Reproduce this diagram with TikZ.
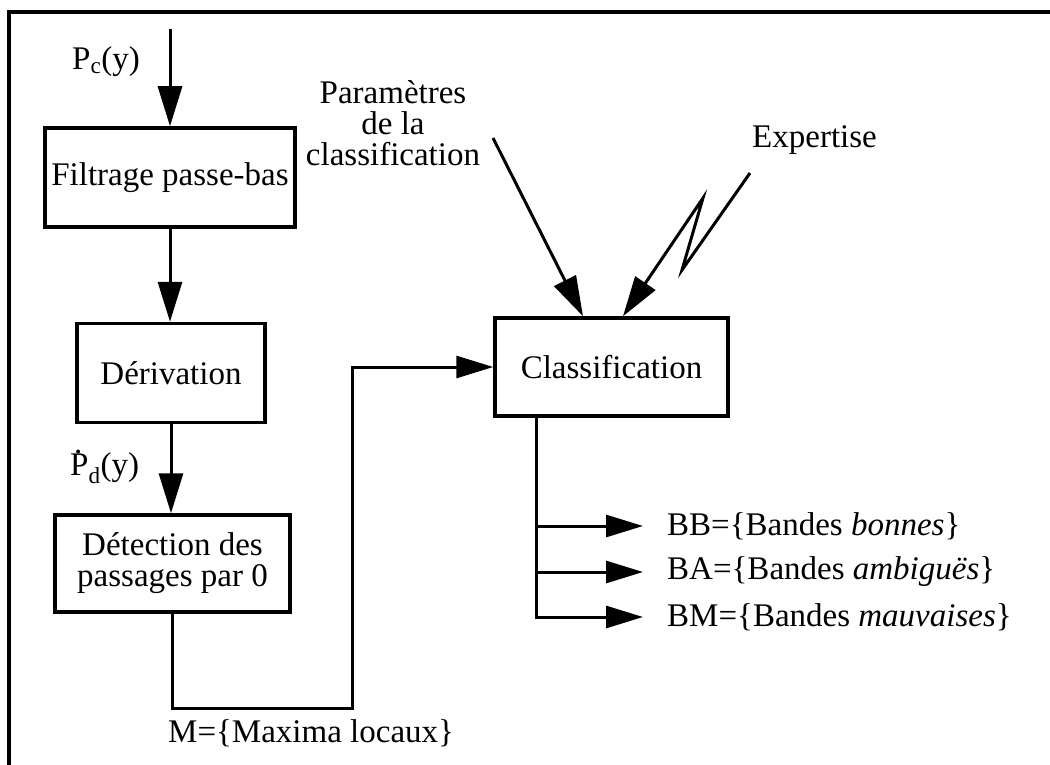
\documentclass[tikz,border=0pt]{standalone}
\usepackage{fontspec}
\setmainfont{Liberation Serif}
\usetikzlibrary{arrows.meta,calc}
\begin{document}
\begin{tikzpicture}[x=1pt,y=-1pt,
  txt/.style={font=\fontsize{33}{31}\selectfont},
  box/.style={txt, draw, line width=3.5pt, inner sep=0pt, align=center},
  lbl/.style={txt, inner sep=0pt},
  conn/.style={line width=3pt},
  arr/.style={conn, -{Triangle[length=40pt,width=24pt]}},
  harr/.style={conn, -{Triangle[length=37pt,width=22pt]}}]
\useasboundingbox (0,0) rectangle (1050,765);
% frame
\draw[line width=3.2pt] (9,765) -- (9,12) -- (1050,12);
% boxes
\node[box, minimum width=250pt, minimum height=99pt] (filt) at (170,177.5) {Filtrage passe-bas};
\node[box, minimum width=188pt, minimum height=99pt] (deriv) at (171,373) {Dérivation};
\node[box, minimum width=235pt, minimum height=97pt] (detect) at (172.5,563.5) {Détection des\\passages par 0};
\node[box, minimum width=233pt, minimum height=98pt] (classif) at (611.5,367) {Classification};
% labels
\node[lbl, anchor=west] (pc) at (72,62) {P\textsubscript{c}(y)};
\node[lbl, anchor=west] (pd) at (70,467) {\makebox[0pt][l]{\hspace{0.12em}\raisebox{0.66em}{.}}P\textsubscript{d}(y)};
\node[lbl, align=center] (param) at (393,123) {Paramètres\\de la\\classification};
\node[lbl, anchor=west] (expert) at (752,140) {Expertise};
\node[lbl, anchor=west] (maxl) at (168,733) {M=\{Maxima locaux\}};
\node[lbl, anchor=west] (bb) at (667,526) {BB=\{Bandes \textit{bonnes}\}};
\node[lbl, anchor=west] (ba) at (667,572) {BA=\{Bandes \textit{ambiguës}\}};
\node[lbl, anchor=west] (bm) at (667,617) {BM=\{Bandes \textit{mauvaises}\}};
% coordinates
\coordinate (in) at (170,29);
\coordinate (turn) at (352,708);
\coordinate (p0) at (493,138);
\coordinate (e0) at (750,173);
\coordinate (e1) at (682,270);
\coordinate (e2) at (703,198);
\coordinate (out) at (536,0 |- classif.south);
% connectors
\draw[arr] (in) -- (filt.north);
\draw[arr] (filt.south) -- (filt.south |- deriv.north);
\draw[arr] (deriv.south) -- (deriv.south |- detect.north);
\draw[harr] (detect.south) |- (turn) |- (classif.west);
\draw[arr] (p0) -- (583,0 |- classif.north);
\draw[arr] (e0) -- (e1) -- (e2) -- (623,0 |- classif.north);
\draw[harr] (out) |- ([xshift=-24pt]bm.west);
\draw[harr] (out |- bb) -- ([xshift=-24pt]bb.west);
\draw[harr] (out |- ba) -- ([xshift=-24pt]ba.west);
\end{tikzpicture}
\end{document}
